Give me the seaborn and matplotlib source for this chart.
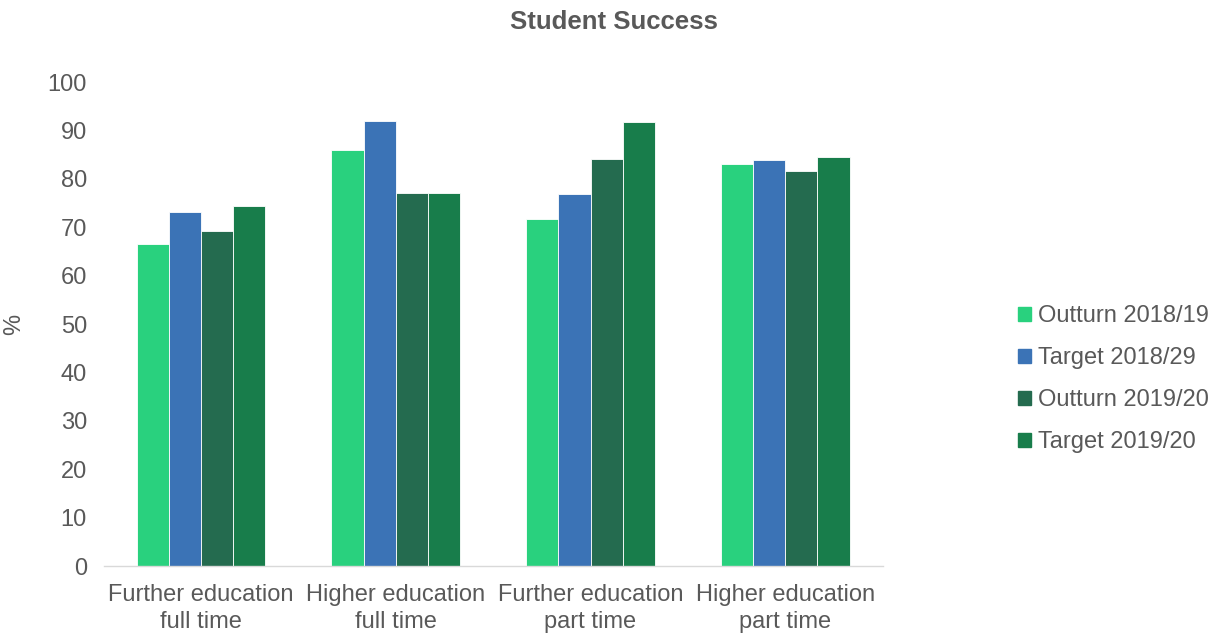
import matplotlib
matplotlib.use("Agg")
import matplotlib.pyplot as plt
import matplotlib.patches as mpatches
import seaborn as sns
import pandas as pd

categories = ["Further education\nfull time", "Higher education\nfull time",
              "Further education\npart time", "Higher education\npart time"]
series = ["Outturn 2018/19", "Target 2018/29", "Outturn 2019/20", "Target 2019/20"]
outturn_2018 = [66.5, 85.9, 71.6, 83.1]
target_2018 = [73.1, 91.9, 76.8, 83.9]
outturn_2019 = [69.3, 77.0, 84.0, 81.6]
target_2019 = [74.4, 77.1, 91.7, 84.5]
colors = ["#29D17E", "#3B73B6", "#246B4F", "#187D4B"]

rows = []
for name, vals in zip(series, [outturn_2018, target_2018, outturn_2019, target_2019]):
    for cat, v in zip(categories, vals):
        rows.append({"cat": cat, "series": name, "value": v})
df = pd.DataFrame(rows)

sns.set_style("white")
plt.rcParams["font.family"] = ["Liberation Sans", "DejaVu Sans"]
txt = "#595959"

fig = plt.figure(figsize=(12.27, 6.33), dpi=100)
ax = fig.add_axes([0.0844, 0.1058, 0.635, 0.7646])

sns.barplot(data=df, x="cat", y="value", hue="series", hue_order=series,
            palette=colors, width=0.66, ax=ax, legend=False, saturation=1,
            edgecolor="white", linewidth=0.6)

ax.set_ylim(0, 100)
ax.set_xlim(-0.5, 3.5)
ax.set_yticks(range(0, 101, 10))
ax.set_xlabel("")
ax.set_ylabel("%", fontsize=17, color=txt, labelpad=16)
ax.tick_params(axis="both", length=0, labelsize=17, colors=txt)
ax.tick_params(axis="y", pad=12)
ax.tick_params(axis="x", pad=13)
for lbl in ax.get_xticklabels():
    lbl.set_linespacing(1.3)
for s in ["top", "right", "left"]:
    ax.spines[s].set_visible(False)
ax.spines["bottom"].set_color("#D9D9D9")
ax.spines["bottom"].set_linewidth(1)

fig.suptitle("Student Success", fontsize=18.5, fontweight="bold", color=txt,
             y=0.965, va="center")

handles = [mpatches.Patch(color=c) for c in colors]
leg = fig.legend(handles, series, loc="center left", bbox_to_anchor=(0.812, 0.401),
                 frameon=False, fontsize=17, handlelength=0.55, handleheight=0.55,
                 handletextpad=0.3, labelspacing=0.85)
for t in leg.get_texts():
    t.set_color(txt)

plt.savefig("out.png", dpi=100)
